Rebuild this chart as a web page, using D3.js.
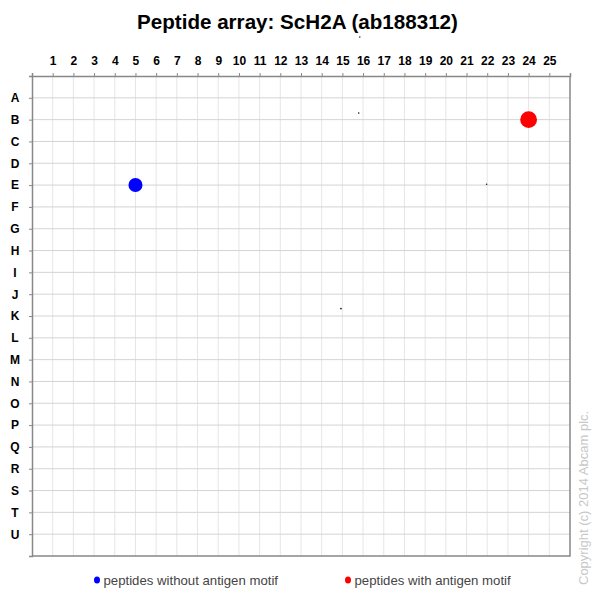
<!DOCTYPE html>
<html>
<head>
<meta charset="utf-8">
<script src="https://cdn.jsdelivr.net/npm/d3@7"></script>
<style>
  body { margin: 0; background: #fff; }
  svg { display: block; font-family: Arial, "Liberation Sans", sans-serif; }
</style>
</head>
<body>
<div id="chart"></div>
<script>
// Data
const colLabels = ["1","2","3","4","5","6","7","8","9","10","11","12","13","14","15","16","17","18","19","20","21","22","23","24","25"];
const rowLabels = ["A","B","C","D","E","F","G","H","I","J","K","L","M","N","O","P","Q","R","S","T","U"];

// spots: column, row (1 = A), signal, motif flag
const spotCol    = [5,   24,  15.84, 15.79, 14.93, 21.97];
const spotRow    = [5,   2,   -1.79, 1.70,  10.66, 4.96];
const spotSignal = [0.7, 1,   0.008, 0.008, 0.012, 0.008];
const spotMotif  = [0,   1,   0,     0,     0,     0];

const legendLabels = ["peptides without antigen motif", "peptides with antigen motif"];
const motifColors = ["#0000ff", "#ff0000"];

const width = 599, height = 599;

const svg = d3.select("#chart")
    .append("svg")
    .attr("width", width)
    .attr("height", height);

// Scales
const x = d3.scaleLinear().domain([0, 26]).range([32, 570]);
const y = d3.scaleLinear().domain([0, 22]).range([76, 556]);
const r = d3.scaleSqrt().domain([0, 1]).range([0, 8.4]);

// Title
svg.append("text")
    .attr("x", 297.5)
    .attr("y", 29)
    .attr("text-anchor", "middle")
    .style("font-size", "20.6px")
    .style("font-weight", "bold")
    .attr("fill", "#000")
    .text("Peptide array: ScH2A (ab188312)");

// Grid
const cols = colLabels.map((d, i) => i + 1);
const rows = rowLabels.map((d, i) => i + 1);

svg.append("g").selectAll("line")
    .data(cols)
    .join("line")
    .attr("x1", d => x(d)).attr("x2", d => x(d))
    .attr("y1", y(0)).attr("y2", y(22))
    .attr("stroke", "#e6e6e6")
    .attr("stroke-width", 1);

svg.append("g").selectAll("line")
    .data(rows)
    .join("line")
    .attr("x1", x(0)).attr("x2", x(26))
    .attr("y1", d => y(d)).attr("y2", d => y(d))
    .attr("stroke", "#d4d4d4")
    .attr("stroke-width", 1);

// Axes (ticks outside the frame)
const topAxis = d3.axisTop(x)
    .tickValues([0].concat(cols))
    .tickSize(3)
    .tickFormat(d => d === 0 ? "" : colLabels[d - 1]);

svg.append("g")
    .attr("transform", `translate(0,${y(0)})`)
    .call(topAxis)
    .call(g => {
        g.select(".domain").attr("stroke", "#888").attr("stroke-width", 1.5);
        g.selectAll(".tick line").attr("stroke", "#888");
        g.selectAll(".tick text")
            .attr("y", -11)
            .style("font-size", "12px")
            .style("font-weight", "bold")
            .style("font-family", "Arial, 'Liberation Sans', sans-serif")
            .attr("fill", "#000");
    });

const leftAxis = d3.axisLeft(y)
    .tickValues([0].concat(rows))
    .tickSize(3)
    .tickFormat(d => d === 0 ? "" : rowLabels[d - 1]);

svg.append("g")
    .attr("transform", `translate(${x(0)},0)`)
    .call(leftAxis)
    .call(g => {
        g.select(".domain").attr("stroke", "#888").attr("stroke-width", 1.5);
        g.selectAll(".tick line").attr("stroke", "#888");
        g.selectAll(".tick text")
            .attr("x", -17)
            .attr("text-anchor", "middle")
            .style("font-size", "12px")
            .style("font-weight", "bold")
            .style("font-family", "Arial, 'Liberation Sans', sans-serif")
            .attr("fill", "#000");
    });

// Frame right + bottom
svg.append("path")
    .attr("d", `M${x(0)},${y(22)}H${x(26)}V${y(0)}`)
    .attr("fill", "none")
    .attr("stroke", "#888")
    .attr("stroke-width", 1.5);

// Spots
const spots = spotCol.map((c, i) => ({ col: c, row: spotRow[i], signal: spotSignal[i], motif: spotMotif[i] }));

svg.append("g").selectAll("circle")
    .data(spots)
    .join("circle")
    .attr("cx", d => x(d.col))
    .attr("cy", d => y(d.row))
    .attr("r", d => Math.max(r(d.signal), 0.8))
    .attr("fill", d => d.signal < 0.05 ? "#222" : motifColors[d.motif]);

// Legend
const legendX = [97, 348];
const legend = svg.append("g").selectAll("g")
    .data(legendLabels)
    .join("g")
    .attr("transform", (d, i) => `translate(${legendX[i]},580)`);

legend.append("ellipse")
    .attr("rx", 3)
    .attr("ry", 3.6)
    .attr("fill", (d, i) => motifColors[i]);

legend.append("text")
    .attr("x", 6.5)
    .attr("dy", "0.35em")
    .style("font-size", "13.2px")
    .attr("fill", "#444")
    .text(d => d);

// Copyright
svg.append("text")
    .attr("transform", "translate(588,585) rotate(-90)")
    .style("font-size", "13px")
    .attr("fill", "#c8c8c8")
    .text("Copyright (c) 2014  Abcam plc.");
</script>
</body>
</html>
